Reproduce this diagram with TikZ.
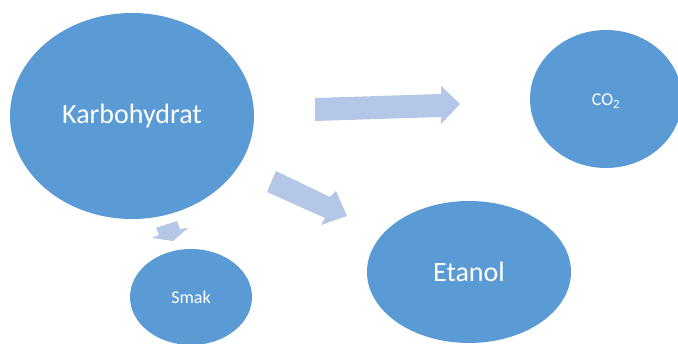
\documentclass[tikz,border=0pt]{standalone}
\usepackage{fontspec}
\setmainfont{Carlito}
\definecolor{bubblecol}{HTML}{5B9BD5}
\definecolor{arrowcol}{HTML}{B4C7E7}
\begin{document}
\begin{tikzpicture}[x=1pt,y=-1pt,
  bubble/.style={fill=bubblecol},
  label/.style={text=white, inner sep=0pt},
  fatarrow/.style={fill=arrowcol, draw=none}]
\useasboundingbox (0,0) rectangle (678,344);
\begin{scope}
\clip (0,0) rectangle (678,344);
\fill[bubble] (132,116) ellipse [x radius=122, y radius=103];
\fill[bubble] (606,99) ellipse [x radius=76, y radius=69];
\fill[bubble] (469,272) ellipse [x radius=102, y radius=71];
\fill[bubble] (191,297) ellipse [x radius=61, y radius=48];
\end{scope}
\node[label, font=\fontsize{28}{30}\selectfont] (karb) at (132,116) {Karbohydrat};
\node[label, font=\fontsize{18}{20}\selectfont] (co2) at (606,101) {CO\textsubscript{2}};
\node[label, font=\fontsize{28}{30}\selectfont] (etanol) at (469,272) {Etanol};
\node[label, font=\fontsize{18}{20}\selectfont] (smak) at (191,297) {Smak};
% arrows
\fill[fatarrow] (315,98) -- (441,94) -- (441,86) -- (460,104) -- (441,124) -- (441,117) -- (315,121) -- cycle;
\fill[fatarrow] (276,171) -- (330,197) -- (336,191) -- (347,216) -- (321,225) -- (325,218) -- (267,192) -- cycle;
\fill[fatarrow] (156,228) -- (177,221) -- (180,229) -- (188,228) -- (173,241) -- (152,238) -- (159,235) -- cycle;
\end{tikzpicture}
\end{document}
